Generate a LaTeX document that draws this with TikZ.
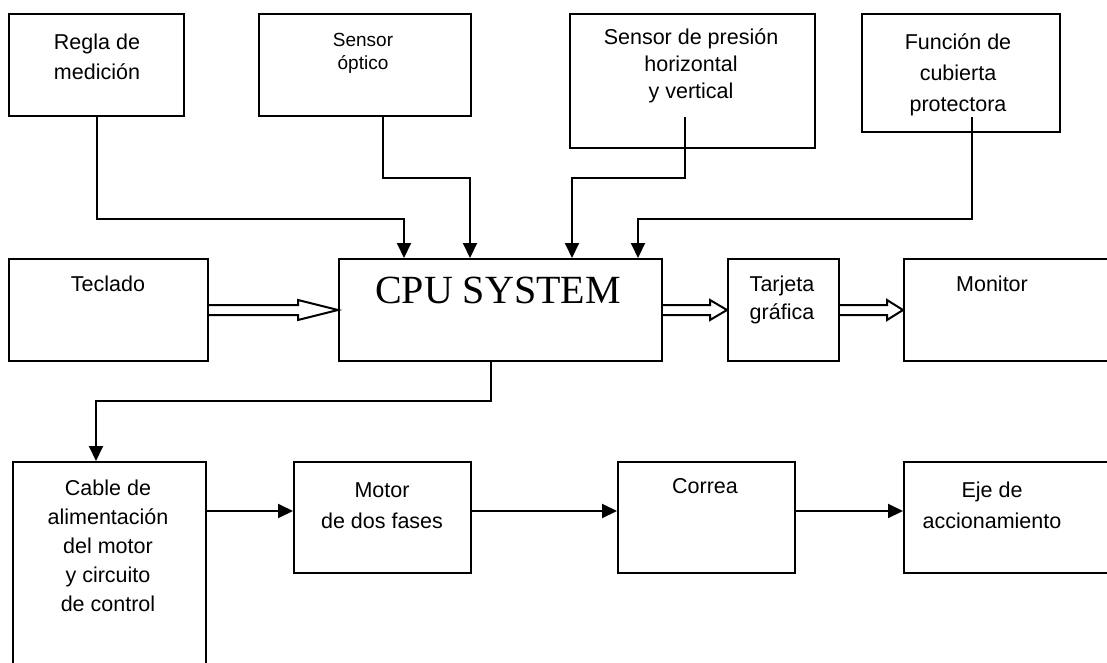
\documentclass[tikz,border=0pt]{standalone}
\usepackage{fontspec}
\setmainfont{Liberation Sans}
\newfontfamily\cpufont{Liberation Serif}
\usetikzlibrary{arrows.meta}
\usetikzlibrary{calc}
\usetikzlibrary{positioning}
\tikzset{
  caja/.style={draw, line width=2pt, inner sep=0, anchor=north west},
  rotulo/.style={anchor=base, align=center, inner sep=0, font=\fontsize{21.5}{30}\selectfont},
  flecha/.style={-{Triangle[length=15pt,width=14pt]}, line width=2pt},
  hueca/.style={draw, line width=2pt, fill=white, line join=miter}
}
% open arrow from #1.east to #2.west, head length #3
\newcommand{\flechahueca}[3]{%
  \draw[hueca] ($(#1.east)+(0,-5)$) -- ($(#2.west)+(-#3,-5)$) -- ($(#2.west)+(-#3,-10)$)
    -- (#2.west) -- ($(#2.west)+(-#3,10)$) -- ($(#2.west)+(-#3,5)$) -- ($(#1.east)+(0,5)$);
}
\begin{document}
\begin{tikzpicture}[x=1pt, y=-1pt]
  \useasboundingbox (0,0) rectangle (1107,663);
  \clip (0,0) rectangle (1107,663);

  % top row
  \node[caja, minimum width=175pt, minimum height=102pt] (regla) at (8,13) {};
  \node[caja, minimum width=212pt, minimum height=102pt] (optico) at (258,13) {};
  \node[caja, minimum width=245pt, minimum height=134pt] (presion) at (569,13) {};
  \node[caja, minimum width=198pt, minimum height=118pt] (funcion) at (861,13) {};

  % labels sit on the baseline of their last line
  \node[rotulo] (tregla) at ($(regla.north west)+(89,67)$) {Regla de\\medición};
  \node[rotulo, font=\fontsize{19}{23}\selectfont] (toptico) at ($(optico.north west)+(105,57)$) {Sensor\\óptico};
  \node[rotulo, font=\fontsize{21.5}{27}\selectfont] (tpresion) at ($(presion.north west)+(122,86)$) {Sensor de presión\\horizontal\\y vertical};
  \node[rotulo, font=\fontsize{21.5}{31}\selectfont] (tfuncion) at ($(funcion.north west)+(97,99)$) {Función de\\cubierta\\protectora};

  % middle row
  \node[caja, minimum width=199pt, minimum height=102pt] (teclado) at (8,258) {};
  \node[caja, minimum width=323pt, minimum height=102pt] (cpu) at (338,258) {};
  \node[caja, minimum width=111pt, minimum height=102pt] (tarjeta) at (727,258) {};
  \node[caja, minimum width=227pt, minimum height=102pt] (monitor) at (903,258) {};

  \node[rotulo] (tteclado) at ($(teclado.north west)+(100,33)$) {Teclado};
  \node[rotulo, font=\fontsize{40}{48}\cpufont] (tcpu) at ($(cpu.north west)+(160,45)$) {CPU SYSTEM};
  \node[rotulo, font=\fontsize{21.5}{28}\selectfont] (ttarjeta) at ($(tarjeta.north west)+(55,61)$) {Tarjeta\\gráfica};
  \node[rotulo] (tmonitor) at ($(monitor.north west)+(89,33)$) {Monitor};

  % bottom row
  \node[caja, minimum width=193pt, minimum height=239pt] (cable) at (12,461) {};
  \node[caja, minimum width=177pt, minimum height=111pt] (motor) at (293,461) {};
  \node[caja, minimum width=177pt, minimum height=111pt] (correa) at (617,461) {};
  \node[caja, minimum width=227pt, minimum height=111pt] (eje) at (903,461) {};

  \node[rotulo, font=\fontsize{21.5}{29}\selectfont] (tcable) at ($(cable.north west)+(96,150)$) {Cable de\\alimentación\\del motor\\y circuito\\de control};
  \node[rotulo, font=\fontsize{21.5}{31}\selectfont] (tmotor) at ($(motor.north west)+(89,67)$) {Motor\\de dos fases};
  \node[rotulo] (tcorrea) at ($(correa.north west)+(88,32)$) {Correa};
  \node[rotulo, font=\fontsize{21.5}{31}\selectfont] (teje) at ($(eje.north west)+(89,67)$) {Eje de\\accionamiento};

  % inputs into the CPU
  \coordinate (e1) at ($(cpu.north west)+(66,0)$);
  \coordinate (e2) at ($(cpu.north west)+(132,0)$);
  \coordinate (e3) at ($(cpu.north west)+(234,0)$);
  \coordinate (e4) at ($(cpu.north west)+(300,0)$);
  \draw[flecha] (regla.south) -- ++(0,102) -| (e1);
  \draw[flecha] ($(optico.south)+(18,0)$) -- ++(0,61) -| (e2);
  \draw[flecha] ($(presion.south)+(-8,-32)$) -- ++(0,61) -| (e3);
  \draw[flecha] ($(funcion.south)+(11,-16)$) -- ++(0,102) -| (e4);

  % CPU to power cable
  \coordinate (s1) at ($(cpu.south west)+(153,0)$);
  \coordinate (c1) at ($(cable.north west)+(84,0)$);
  \draw[flecha] (s1) -- ++(0,39) -| (c1);

  % open arrows
  \flechahueca{teclado}{cpu}{40}
  \flechahueca{cpu}{tarjeta}{17}
  \flechahueca{tarjeta}{monitor}{16}

  % drive chain
  \draw[flecha] ($(cable.north east)+(0,50)$) -- ($(motor.north west)+(0,50)$);
  \draw[flecha] ($(motor.north east)+(0,50)$) -- ($(correa.north west)+(0,50)$);
  \draw[flecha] ($(correa.north east)+(0,50)$) -- ($(eje.north west)+(0,50)$);
\end{tikzpicture}
\end{document}
